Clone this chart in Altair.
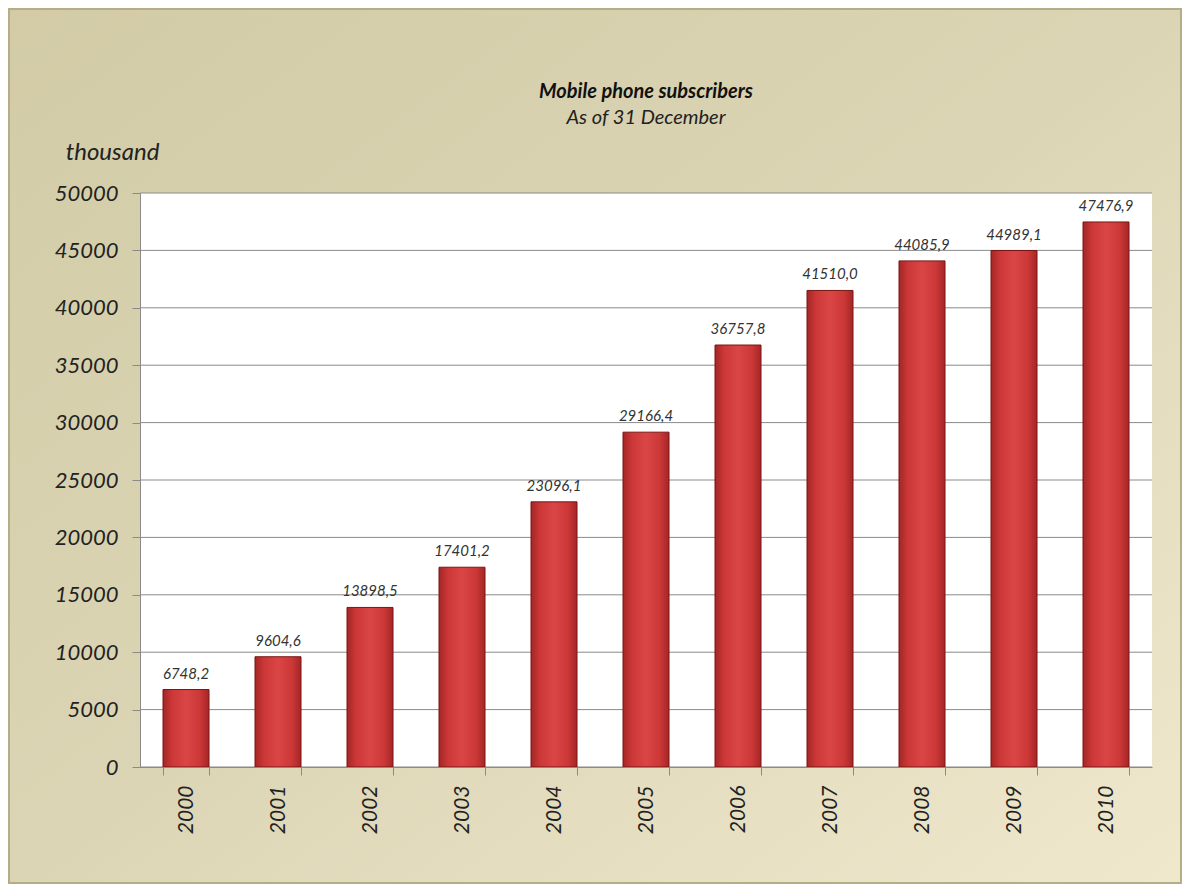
import altair as alt
import pandas as pd

years = ["2000", "2001", "2002", "2003", "2004", "2005", "2006", "2007", "2008", "2009", "2010"]
subscribers = [6748.2, 9604.6, 13898.5, 17401.2, 23096.1, 29166.4, 36757.8, 41510.0, 44085.9, 44989.1, 47476.9]
y_ticks = [0, 5000, 10000, 15000, 20000, 25000, 30000, 35000, 40000, 45000, 50000]

df = pd.DataFrame({"year": years, "value": subscribers})
grid_df = pd.DataFrame({"value": y_ticks})

FONT = "Lato"
W, H = 1012, 574
PAD = {"left": 132, "top": 185, "right": 30, "bottom": 117}

bg_fill = alt.Gradient(
    gradient="linear", x1=0, y1=0, x2=1, y2=1,
    stops=[
        alt.GradientStop(color="#d2cba6", offset=0),
        alt.GradientStop(color="#dcd5b5", offset=0.5),
        alt.GradientStop(color="#efe8cd", offset=1),
    ],
)

bar_fill = alt.Gradient(
    gradient="linear", x1=0, x2=1, y1=0, y2=0,
    stops=[
        alt.GradientStop(color="#a52626", offset=0),
        alt.GradientStop(color="#cc3838", offset=0.2),
        alt.GradientStop(color="#da4646", offset=0.5),
        alt.GradientStop(color="#cc3838", offset=0.8),
        alt.GradientStop(color="#a52626", offset=1),
    ],
)

background = alt.Chart(df).mark_rect(
    fill=bg_fill, stroke="#b5ad86", strokeWidth=2
).encode(
    x=alt.value(-PAD["left"] + 1), x2=alt.value(W + PAD["right"] - 1),
    y=alt.value(-PAD["top"] + 1), y2=alt.value(H + PAD["bottom"] - 1),
)

plot_bg = alt.Chart(df).mark_rect(fill="white").encode(
    x=alt.value(0), x2=alt.value(W), y=alt.value(0), y2=alt.value(H),
)

y_scale = alt.Scale(domain=[0, 50000], nice=False)
y_axis = alt.Axis(
    values=y_ticks, title="thousand", titleAngle=0, titleX=-28, titleY=-41,
    titleAlign="center", titleBaseline="middle", titleFont=FONT,
    titleFontStyle="italic", titleFontWeight="normal", titleFontSize=24,
    titleColor="#222222",
    labelFont=FONT, labelFontStyle="italic", labelFontSize=22,
    labelColor="#222222", labelPadding=14,
    tickSize=8, tickColor="#8a8a8a", domainColor="#8a8a8a",
    grid=False, format="d", zindex=1,
)

grid = alt.Chart(grid_df).mark_rule(color="#8a8a8a", strokeWidth=1).encode(
    y=alt.Y("value:Q", scale=y_scale, axis=y_axis),
)

x_enc = alt.X(
    "year:N",
    sort=years,
    scale=alt.Scale(paddingInner=0.5, paddingOuter=0.25),
    axis=alt.Axis(
        title=None, labelAngle=270, labelFont=FONT, labelFontStyle="italic",
        labelFontSize=21, labelColor="#222222", labelPadding=10,
        tickBand="extent", tickSize=8, tickColor="#8a8a8a", domainColor="#8a8a8a",
        grid=False, zindex=1,
    ),
)

bars = alt.Chart(df).mark_bar(
    fill=bar_fill, stroke="#7a1515", strokeWidth=1
).encode(x=x_enc, y=alt.Y("value:Q", scale=y_scale, axis=y_axis))

labels = alt.Chart(df).transform_calculate(
    label="replace(format(datum.value, '.1f'), '.', ',')"
).mark_text(
    font=FONT, fontStyle="italic", fontSize=15, color="#333333",
    baseline="bottom", dy=-8
).encode(
    x=alt.X("year:N", sort=years),
    y=alt.Y("value:Q", scale=y_scale, axis=y_axis),
    text="label:N",
)

chart = alt.layer(background, plot_bg, grid, bars, labels).properties(
    width=W,
    height=H,
    padding=PAD,
    autosize=alt.AutoSizeParams(type="none"),
    background="#d9d3b3",
    title=alt.TitleParams(
        text="Mobile phone subscribers",
        subtitle="As of 31 December",
        font=FONT, fontSize=20, fontStyle="italic", fontWeight="bold",
        color="#111111",
        subtitleFont=FONT, subtitleFontSize=20, subtitleFontStyle="italic",
        subtitleColor="#222222", subtitlePadding=6,
        anchor="middle", offset=-120,
    ),
).configure_view(strokeWidth=0)

chart.save("out.html", embed_options={"renderer": "svg", "actions": False})
